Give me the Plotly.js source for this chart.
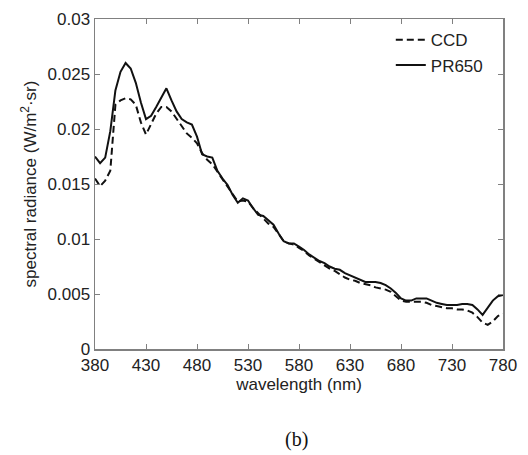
<!DOCTYPE html>
<html>
<head>
<meta charset="utf-8">
<script src="https://cdn.plot.ly/plotly-3.0.1.min.js"></script>
<style>html,body{margin:0;padding:0;background:#fff;}#chart{width:528px;height:455px;}</style>
</head>
<body>
<div id="chart"></div>
<script>
const wavelength = [380,385,390,395,400,405,410,415,420,425,430,435,440,445,450,455,460,465,470,475,480,485,490,495,500,505,510,515,520,525,530,535,540,545,550,555,560,565,570,575,580,585,590,595,600,605,610,615,620,625,630,635,640,645,650,655,660,665,670,675,680,685,690,695,700,705,710,715,720,725,730,735,740,745,750,755,760,765,770,775,780];

const pr650 = [0.0175,0.0169,0.0174,0.0198,0.0235,0.0252,0.0260,0.0255,0.0242,0.0224,0.0209,0.0212,0.0220,0.0229,0.0237,0.0226,0.0216,0.0209,0.0206,0.0204,0.0193,0.0177,0.0175,0.0174,0.0162,0.0155,0.0149,0.0140,0.0133,0.0137,0.0135,0.0128,0.0122,0.0121,0.0117,0.0113,0.0105,0.0098,0.0096,0.0096,0.0093,0.0090,0.0086,0.0083,0.0080,0.0078,0.0075,0.0073,0.0072,0.0069,0.0067,0.0065,0.0063,0.0061,0.0061,0.0061,0.0060,0.0058,0.0055,0.0051,0.0046,0.0044,0.0044,0.0046,0.0046,0.0046,0.0044,0.0042,0.0041,0.0040,0.0040,0.0040,0.0041,0.0041,0.0040,0.0036,0.0031,0.0038,0.0044,0.0048,0.0049];

const ccd = [0.0155,0.0148,0.0153,0.0162,0.0222,0.0226,0.0228,0.0227,0.0222,0.0206,0.0195,0.0205,0.0214,0.0220,0.0220,0.0216,0.0209,0.0202,0.0196,0.0192,0.0187,0.0178,0.0172,0.0168,0.0161,0.0154,0.0148,0.0140,0.0134,0.0135,0.0134,0.0128,0.0123,0.0119,0.0114,0.0111,0.0105,0.0098,0.0096,0.0095,0.0092,0.0089,0.0085,0.0082,0.0079,0.0076,0.0073,0.0071,0.0068,0.0065,0.0063,0.0062,0.0060,0.0059,0.0058,0.0056,0.0055,0.0054,0.0052,0.0048,0.0044,0.0043,0.0043,0.0043,0.0043,0.0042,0.0040,0.0039,0.0038,0.0037,0.0037,0.0036,0.0036,0.0035,0.0033,0.0029,0.0024,0.0022,0.0025,0.0030,0.0032];

const xTicks = [380,430,480,530,580,630,680,730,780];
const yTicks = [0,0.005,0.01,0.015,0.02,0.025,0.03];
const yTickText = ["0","0.005","0.01","0.015","0.02","0.025","0.03"];

const fontFam = "Liberation Sans, Arial, sans-serif";

const traces = [
  {x: wavelength, y: ccd, name: "CCD", type: "scatter", mode: "lines",
   line: {color: "#111", width: 2, dash: "7px,4px"}},
  {x: wavelength, y: pr650, name: "PR650", type: "scatter", mode: "lines",
   line: {color: "#111", width: 2}}
];

const axisCommon = {
  showgrid: false, zeroline: false, showline: true, linecolor: "#808080", linewidth: 1.5,
  mirror: "ticks", ticks: "inside", ticklen: 5, tickcolor: "#808080", tickwidth: 1,
  tickfont: {family: fontFam, size: 17, color: "#222"}
};

const layout = {
  width: 528, height: 455,
  margin: {l: 95, r: 25, t: 19, b: 106},
  paper_bgcolor: "#fff", plot_bgcolor: "#fff",
  showlegend: true,
  legend: {x: 0.725, y: 0.99, xanchor: "left", yanchor: "top", bgcolor: "rgba(0,0,0,0)",
           font: {family: fontFam, size: 17, color: "#222"}, tracegroupgap: 0},
  xaxis: Object.assign({}, axisCommon, {
    range: [380, 780], tickmode: "array", tickvals: xTicks, ticktext: xTicks.map(String),
    title: {text: "wavelength (nm)", font: {family: fontFam, size: 17, color: "#222"}, standoff: 2}
  }),
  yaxis: Object.assign({}, axisCommon, {
    range: [0, 0.03], tickmode: "array", tickvals: yTicks, ticktext: yTickText,
    title: {text: "spectral radiance (W/m<sup>2</sup>·sr)", font: {family: fontFam, size: 17, color: "#222"}, standoff: 6}
  }),
  annotations: [
    {text: "(b)", xref: "paper", yref: "paper", x: 0.493, y: -0.275, xanchor: "center", yanchor: "middle",
     showarrow: false, font: {family: "Liberation Serif, Times New Roman, serif", size: 20, color: "#111"}}
  ]
};

Plotly.newPlot("chart", traces, layout, {displayModeBar: false, staticPlot: true});
</script>
</body>
</html>
